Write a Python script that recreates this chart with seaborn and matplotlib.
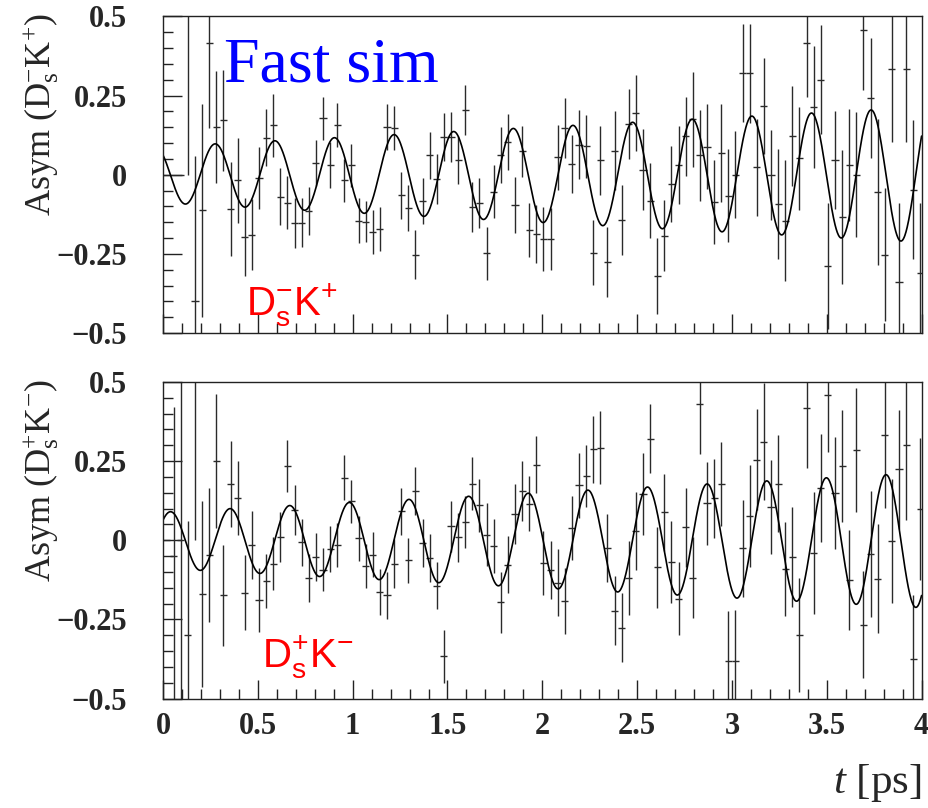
import numpy as np
import matplotlib
matplotlib.use("Agg")
import matplotlib.pyplot as plt
from matplotlib.ticker import MultipleLocator, FixedLocator, FixedFormatter
import seaborn as sns

# ---------------- data ----------------
BIN_W = 0.0375          # histogram bin width [ps]
N_BINS = 107

top_vals = [0, 0, 0, 0.6, -0.4, -0.113, 0.415, 0.151, 0.172, -0.108,
            -0.018, -0.197, -0.189, -0.011, 0.117, 0.156, -0.069, -0.088, -0.153, -0.151,
            -0.115, 0.037, 0.179, 0.03, 0.158, -0.018, 0.03, -0.145, -0.148, -0.182,
            -0.172, 0.15, 0.147, -0.065, -0.105, -0.253, -0.083, 0.061, -0.014, 0.12,
            0.12, 0.047, 0.206, -0.103, -0.088, -0.248, -0.053, 0.062, 0.104, -0.096,
            0.074, -0.174, -0.188, -0.203, -0.203, 0.055, 0.148, 0.035, 0.095, 0.09,
            -0.246, 0.045, -0.276, 0.076, -0.142, 0.16, 0.195, 0.016, -0.082, -0.32,
            -0.193, -0.028, 0.03, 0.121, 0.176, 0.061, 0.088, -0.086, 0.069, -0.066,
            0.0, 0.321, 0.321, 0.023, 0.217, -0.001, -0.093, -0.145, 0.121, 0.052,
            0.417, 0.214, 0.3, -0.288, 0.047, -0.133, 0.03, 0.0, 0.457, 0.242,
            -0.054, -0.253, 0.334, -0.338, 0.334, -0.047, -0.309]
top_errs = [0, 0, 0, 0.6, 0.46, 0.336, 0.267, 0.177, 0.159, 0.149,
            0.133, 0.122, 0.111, 0.098, 0.09, 0.1, 0.09, 0.084, 0.08, 0.078,
            0.076, 0.073, 0.068, 0.072, 0.069, 0.069, 0.068, 0.071, 0.066, 0.069,
            0.069, 0.072, 0.07, 0.075, 0.074, 0.078, 0.072, 0.073, 0.08, 0.076,
            0.079, 0.076, 0.079, 0.079, 0.079, 0.084, 0.084, 0.089, 0.089, 0.089,
            0.08, 0.085, 0.091, 0.1, 0.097, 0.103, 0.095, 0.092, 0.11, 0.1,
            0.102, 0.108, 0.111, 0.124, 0.111, 0.11, 0.121, 0.127, 0.118, 0.12,
            0.112, 0.12, 0.124, 0.126, 0.15, 0.145, 0.134, 0.132, 0.156, 0.147,
            0.137, 0.154, 0.156, 0.154, 0.151, 0.141, 0.174, 0.19, 0.158, 0.163,
            0.17, 0.194, 0.172, 0.2, 0.155, 0.212, 0.177, 0.197, 0.19, 0.19,
            0.23, 0.21, 0.23, 0.25, 0.23, 0.22, 0.22]

bot_vals = [0, -0.05, 0.0, -0.3, 0.6, -0.171, -0.047, 0.25, -0.174, 0.178,
            0.134, -0.166, -0.014, -0.189, -0.128, -0.074, 0.011, 0.235, 0.095, -0.007,
            -0.118, -0.053, -0.093, -0.028, -0.016, 0.197, 0.123, 0.007, -0.081, -0.045,
            -0.164, -0.174, -0.074, 0.092, -0.063, 0.155, -0.008, -0.056, -0.143, -0.367,
            0.044, 0.009, 0.058, 0.179, 0.11, 0.018, -0.018, -0.196, -0.077, 0.084,
            0.155, 0.115, 0.239, -0.072, -0.093, -0.134, -0.192, 0.039, 0.174, 0.203,
            0.287, 0.293, -0.025, -0.223, -0.277, -0.119, 0.028, 0.146, 0.32, -0.086,
            0.088, -0.069, -0.185, 0.041, -0.118, 0.429, 0.117, 0.132, 0.178, -0.383,
            -0.38, -0.026, 0.076, 0.255, 0.312, 0.105, 0.179, -0.09, -0.053, -0.3,
            0.419, -0.04, 0.165, 0.459, 0.15, 0.234, -0.127, 0.285, -0.267, -0.043,
            -0.121, 0.332, -0.003, 0.224, 0.3, -0.374, 0.098]
bot_errs = [0, 0.47, 0.6, 0.36, 0.6, 0.294, 0.211, 0.212, 0.159, 0.136,
            0.117, 0.119, 0.107, 0.101, 0.086, 0.083, 0.079, 0.083, 0.079, 0.074,
            0.076, 0.075, 0.068, 0.072, 0.07, 0.071, 0.069, 0.071, 0.069, 0.071,
            0.072, 0.074, 0.077, 0.074, 0.071, 0.076, 0.075, 0.076, 0.075, 0.083,
            0.08, 0.078, 0.083, 0.084, 0.085, 0.099, 0.084, 0.096, 0.091, 0.095,
            0.095, 0.087, 0.089, 0.1, 0.091, 0.105, 0.103, 0.1, 0.103, 0.097,
            0.105, 0.115, 0.107, 0.109, 0.109, 0.116, 0.123, 0.129, 0.109, 0.128,
            0.122, 0.129, 0.115, 0.125, 0.129, 0.157, 0.131, 0.124, 0.132, 0.16,
            0.16, 0.153, 0.162, 0.16, 0.186, 0.148, 0.154, 0.149, 0.158, 0.18,
            0.19, 0.194, 0.17, 0.18, 0.177, 0.177, 0.158, 0.197, 0.169, 0.2,
            0.173, 0.23, 0.196, 0.187, 0.236, 0.2, 0.225]

# fit-curve parameters
FIT_DM = 19.98          # oscillation frequency [1/ps]
FIT_PHASE = 0.77        # phase [rad]
FIT_AMP0 = 0.089        # amplitude at t = 0
FIT_AMP_SLOPE = 0.031   # amplitude growth [1/ps]

xtick_vals = [0, 0.5, 1, 1.5, 2, 2.5, 3, 3.5, 4]
xtick_labels = ["0", "0.5", "1", "1.5", "2", "2.5", "3", "3.5", "4"]
ytick_vals = [-0.5, -0.25, 0, 0.25, 0.5]
ytick_labels = ["\u22120.5", "\u22120.25", "0", "0.25", "0.5"]

# ---------------- style ----------------
sns.set_style("ticks")
plt.rcParams["font.family"] = ["Liberation Serif", "DejaVu Serif"]
plt.rcParams["mathtext.fontset"] = "custom"
plt.rcParams["mathtext.rm"] = "Liberation Serif"
plt.rcParams["mathtext.it"] = "Liberation Serif:italic"
plt.rcParams["mathtext.bf"] = "Liberation Serif:bold"
plt.rcParams["mathtext.default"] = "regular"
plt.rcParams["axes.linewidth"] = 1.0

fig = plt.figure(figsize=(9.29, 8.08), dpi=100)
ax_top = fig.add_axes([0.1755, 0.5879, 0.8165, 0.3917])
ax_bot = fig.add_axes([0.1755, 0.1355, 0.8165, 0.3917])

t_centers = (np.arange(N_BINS) + 0.5) * BIN_W
t_fine = np.linspace(0, 4, 2000)
amp = FIT_AMP0 + FIT_AMP_SLOPE * t_fine
curve_top = -amp * np.sin(FIT_DM * t_fine - FIT_PHASE)
curve_bot = amp * np.cos(FIT_DM * t_fine - FIT_PHASE)

panels = [
    (ax_top, top_vals, top_errs, curve_top,
     r"Asym (D$_{s}^{-}$K$^{+}$)", r"D$_{s}^{-}$K$^{+}$", (246, 316)),
    (ax_bot, bot_vals, bot_errs, curve_bot,
     r"Asym (D$_{s}^{+}$K$^{-}$)", r"D$_{s}^{+}$K$^{-}$", (262, 668)),
]

W, H = 929.0, 808.0
for ax, vals, errs, curve, ylab, tag, (tx, ty) in panels:
    ax.errorbar(t_centers, vals, yerr=errs, xerr=BIN_W / 2, fmt="none",
                ecolor="#2a2a2a", elinewidth=1.0, capsize=0)
    sns.lineplot(x=t_fine, y=curve, ax=ax, color="black", linewidth=1.2,
                 sort=False, estimator=None)
    ax.set_xlim(0, 4)
    ax.set_ylim(-0.5, 0.5)
    ax.xaxis.set_major_locator(FixedLocator(xtick_vals))
    ax.xaxis.set_minor_locator(MultipleLocator(0.1))
    ax.yaxis.set_major_locator(FixedLocator(ytick_vals))
    ax.yaxis.set_major_formatter(FixedFormatter(ytick_labels))
    ax.yaxis.set_minor_locator(MultipleLocator(0.05))
    ax.tick_params(which="major", direction="in", length=14, width=1,
                   top=False, right=False, color="#222222")
    ax.tick_params(which="minor", direction="in", length=7, width=1,
                   top=False, right=False, color="#222222")
    ax.tick_params(axis="y", which="major", pad=26)
    for lbl in ax.get_yticklabels():
        lbl.set_fontsize(22)
        lbl.set_fontweight("bold")
    for sp in ax.spines.values():
        sp.set_color("#222222")
    ax.set_ylabel(ylab, fontsize=26, loc="top")
    ax.yaxis.set_label_coords(-0.134, 1.01)
    fig.text(tx / W, 1 - ty / H, tag, color="#ff0000", fontsize=29,
             family=["Liberation Sans", "DejaVu Sans"],
             ha="left", va="baseline")

ax_top.xaxis.set_major_formatter(FixedFormatter([""] * len(xtick_vals)))
ax_bot.xaxis.set_major_formatter(FixedFormatter(xtick_labels))
ax_bot.tick_params(axis="x", which="major", pad=10)
for lbl in ax_bot.get_xticklabels():
    lbl.set_fontsize(22)
    lbl.set_fontweight("bold")

fig.text(921 / W, 1 - 793 / H, r"$\mathit{t}$ [ps]", fontsize=31,
         ha="right", va="baseline")
fig.text(224 / W, 1 - 81 / H, "Fast sim", color="#0000ff", fontsize=46,
         ha="left", va="baseline")

fig.savefig("out.png", dpi=100)
